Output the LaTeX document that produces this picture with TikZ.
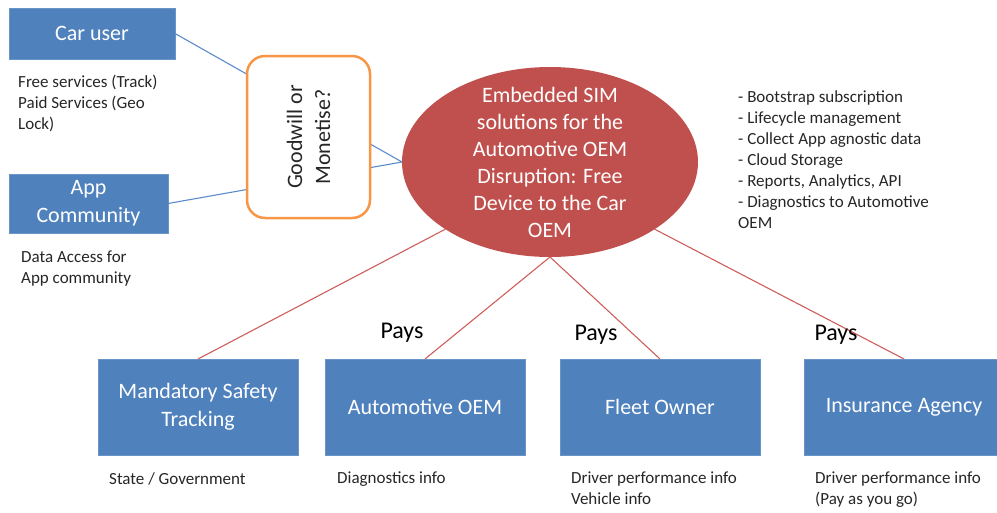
\documentclass[tikz,border=0pt]{standalone}
\usepackage{fontspec}
\setmainfont{Carlito}
\usepackage{tikz}
\usetikzlibrary{shapes.geometric, positioning}
\definecolor{BoxBlue}{HTML}{4F81BD}
\definecolor{SimRed}{HTML}{C0504D}
\definecolor{DecisionOrange}{HTML}{F79646}
\definecolor{LinkBlue}{HTML}{5B8BCB}
\definecolor{LinkRed}{HTML}{CD5E5B}
\definecolor{NoteGray}{HTML}{262626}
\tikzset{
  % Box styles
  partybox/.style={rectangle, draw=BoxBlue!85!white, fill=BoxBlue, text=white, minimum width=200pt, minimum height=96pt, font=\fontsize{22}{28}\selectfont, align=center, outer sep=0pt},
  decisionbox/.style={rectangle, rounded corners=18pt, draw=DecisionOrange, line width=2.5pt, fill=white, minimum width=162pt, minimum height=123pt, font=\fontsize{22}{28}\selectfont, align=center, text=NoteGray},
  simellipse/.style={ellipse, fill=SimRed, minimum width=296pt, minimum height=190pt, inner sep=0pt, outer sep=0pt},
  % Text styles
  simtext/.style={text=white, font=\fontsize{22}{27}\selectfont, align=center},
  notetext/.style={text=NoteGray, font=\fontsize{17}{21}\selectfont, align=left, inner sep=0pt},
  payslabel/.style={text=black, font=\fontsize{24}{29}\selectfont, inner sep=0pt},
  % Line styles
  blueline/.style={LinkBlue, line width=1.1pt},
  redline/.style={LinkRed, line width=1.1pt}
}
\begin{document}
\begin{tikzpicture}[x=1pt, y=-1pt]
  \useasboundingbox (0,0) rectangle (997,512);

  % Users on the left
  \node[partybox, minimum width=166pt, minimum height=51pt] (car) at (92,33.5) {Car user};
  \node[partybox, minimum width=159pt, minimum height=59pt] (app) at (88.5,203.5) {App\\Community};
  \node[notetext, below right=16pt and 9pt of car.south west] (carnote) {Free services (Track)\\Paid Services (Geo\\Lock)};
  \node[notetext, below right=18pt and 12pt of app.south west] (appnote) {Data Access for\\App community};

  % Central ellipse
  \node[simellipse] (ell) at (550,162) {};
  \node[simtext] (elltext) at (ell.center) {Embedded SIM\\solutions for the\\Automotive OEM\\Disruption: Free\\Device to the Car\\OEM};

  % Services list
  \node[notetext, anchor=north west] (services) at (738,90) {- Bootstrap subscription\\- Lifecycle management\\- Collect App agnostic data\\- Cloud Storage\\- Reports, Analytics, API\\- Diagnostics to Automotive\\OEM};

  % Links from users (behind the decision box)
  \draw[blueline] (car.east) -- (ell.west);
  \draw[blueline] (app.east) -- (ell.west);
  \node[decisionbox, rotate=90] (decide) at (308.5,137) {Goodwill or\\Monetise?};

  % Paying parties
  \node[partybox] (mand) at (198,407) {Mandatory Safety\\Tracking};
  \node[partybox, right=27pt of mand] (oem) {Automotive OEM};
  \node[partybox, right=35pt of oem] (fleet) {Fleet Owner};
  \node[partybox, right=44pt of fleet] (ins) {Insurance Agency};

  \draw[redline] (ell.south west) -- (mand.north);
  \draw[redline] (ell.south) -- (oem.north);
  \draw[redline] (ell.south) -- (fleet.north);
  \draw[redline] (ell.south east) -- (ins.north);

  \node[payslabel] (pays1) at (402,333) {Pays};
  \node[payslabel] (pays2) at (596,335) {Pays};
  \node[payslabel] (pays3) at (836,335) {Pays};

  % Notes under the parties
  \node[notetext, below right=17pt and 11pt of mand.south west] (mandnote) {State / Government};
  \node[notetext, below right=17pt and 12pt of oem.south west] (oemnote) {Diagnostics info};
  \node[notetext, below right=17pt and 11pt of fleet.south west] (fleetnote) {Driver performance info\\Vehicle info};
  \node[notetext, below right=17pt and 11pt of ins.south west] (insnote) {Driver performance info\\(Pay as you go)};
\end{tikzpicture}
\end{document}
